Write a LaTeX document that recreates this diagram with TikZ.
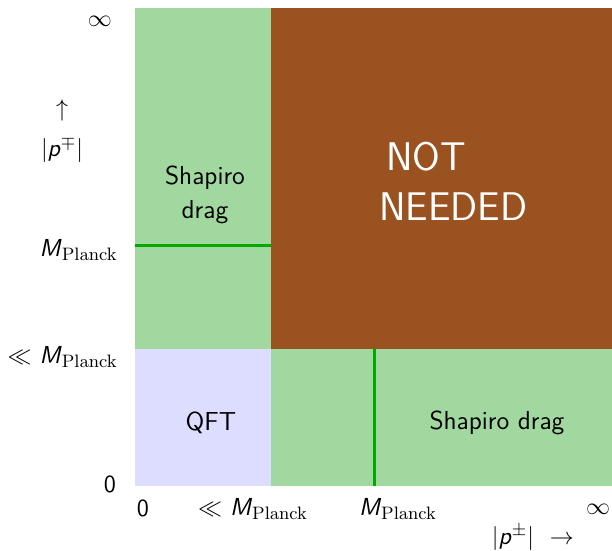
\documentclass[tikz,border=0pt]{standalone}
\usepackage{amsmath,amssymb}
\usepackage{xcolor}
\usepackage{tikz}
\usetikzlibrary{positioning}

\definecolor{dragGreen}{RGB}{160,216,160}
\definecolor{lineGreen}{RGB}{0,170,0}
\definecolor{notBrown}{RGB}{154,82,32}
\definecolor{qftBlue}{RGB}{221,221,255}

\newcommand{\Mpl}{\textsf{\textit{M}}$_{\mathrm{Planck}}$}
\newcommand{\pabs}[1]{$|$\textsf{\textit{p}}$^{#1}|$}

\begin{document}
\begin{tikzpicture}[x=0.5pt,y=-0.5pt]
        \tikzstyle{every node}+=[inner sep=0pt]
        \tikzstyle{axis}=[font=\sffamily\fontsize{12.3}{14}\selectfont]
        \tikzstyle{region}=[font=\sffamily\fontsize{13}{17}\selectfont, align=center]
        \useasboundingbox (0,0) rectangle (612,551);
        % regions
        \fill [dragGreen] (135,8) rectangle (271,349);
        \fill [notBrown] (271,8) rectangle (612,349);
        \fill [qftBlue] (135,349) rectangle (271,486);
        \fill [dragGreen] (271,349) rectangle (612,486);
        % Planck lines
        \coordinate (hl) at (135,246);
        \coordinate (hr) at (271,246);
        \coordinate (vt) at (374,349);
        \coordinate (vb) at (374,486);
        \draw [lineGreen, line width=1.5pt] (hl) -- (hr);
        \draw [lineGreen, line width=1.5pt] (vt) -- (vb);
        % region labels
        \node [region] (dragUp) at (205,195) {Shapiro\\drag};
        \node [region, font=\sffamily\fontsize{20}{25}\selectfont, text=white, align=left, anchor=west] (notNeeded) at (379,181) {\,NOT\\NEEDED};
        \node [region] (qft) at (211,423) {QFT};
        \node [region] (dragRight) at (497,423) {Shapiro drag};
        % vertical axis
        \node [axis] (yInf) at (100,21) {$\infty$};
        \node [axis] (yArrow) at (62,111) {$\uparrow$};
        \node [axis] (yLabel) at (62,150) {\pabs{\mp}};
        \node [axis, anchor=east] (yPl) at (118,250) {\Mpl};
        \node [axis, anchor=east] (yLl) at (118,357) {$\ll$ \Mpl};
        \node [axis] (yZero) at (110,484) {0};
        % horizontal axis
        \node [axis] (xZero) at (143,508) {0};
        \node [axis] (xLl) at (253,509) {$\ll$ \Mpl};
        \node [axis] (xPl) at (398,509) {\Mpl};
        \node [axis] (xInf) at (598,509) {$\infty$};
        \node [axis] (xLabel) at (533,538) {\pabs{\pm}\ \ $\rightarrow$};
\end{tikzpicture}
\end{document}
